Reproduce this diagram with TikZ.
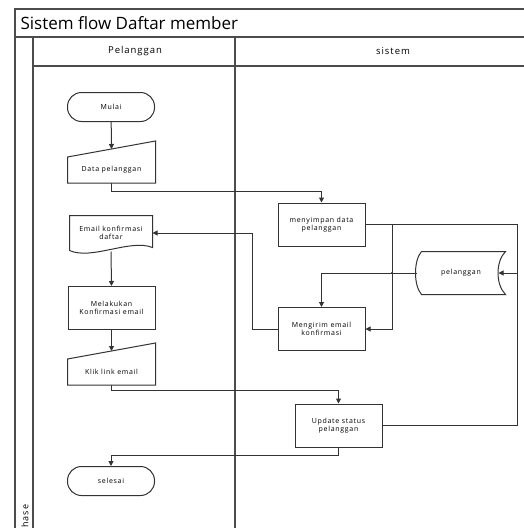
\documentclass[tikz,border=0pt]{standalone}
\usepackage{fontspec}
\setmainfont{Open Sans}
\newfontfamily\kecil[LetterSpace=10]{Open Sans}
\usetikzlibrary{positioning, arrows.meta}

\begin{document}
\begin{tikzpicture}[x=1pt, y=-1pt,
    frame/.style={draw=black!70, line width=1.2pt},
    proses/.style={rectangle, draw=black!80, line width=1pt,
      minimum width=87pt, minimum height=43pt, align=center,
      font=\kecil\fontsize{7}{8.5}\selectfont},
    terminal/.style={proses, rounded corners=14pt, minimum height=29pt},
    masukan/.style={proses, draw=none, minimum height=25pt,
      append after command={\pgfextra{\draw[draw=black!80, line width=1pt]
        (\tikzlastnode.south west) -- (\tikzlastnode.south east)
        -- ([yshift=16pt]\tikzlastnode.north east)
        -- (\tikzlastnode.north west) -- cycle;}}},
    dokumen/.style={proses, draw=none, minimum width=82pt, minimum height=34pt,
      append after command={\pgfextra{\draw[draw=black!80, line width=1pt]
        (\tikzlastnode.south west) -- (\tikzlastnode.north west)
        -- (\tikzlastnode.north east) -- ([yshift=3pt]\tikzlastnode.south east)
        .. controls ([xshift=-22pt,yshift=12pt]\tikzlastnode.south east)
        and ([xshift=22pt,yshift=-10pt]\tikzlastnode.south west)
        .. (\tikzlastnode.south west);}}},
    arsip/.style={proses, draw=none, minimum width=88pt, minimum height=42pt,
      append after command={\pgfextra{\draw[draw=black!80, line width=1pt]
        ([xshift=5pt]\tikzlastnode.north west) -- (\tikzlastnode.north east)
        .. controls ([xshift=-10pt,yshift=-10pt]\tikzlastnode.north east)
        and ([xshift=-10pt,yshift=10pt]\tikzlastnode.south east)
        .. (\tikzlastnode.south east) -- ([xshift=5pt]\tikzlastnode.south west)
        .. controls ([xshift=-3pt,yshift=9pt]\tikzlastnode.south west)
        and ([xshift=-3pt,yshift=-9pt]\tikzlastnode.north west)
        .. ([xshift=5pt]\tikzlastnode.north west);}}},
    garis/.style={draw=black!80, line width=1pt},
    arrow/.style={garis, -{Triangle[length=5pt, width=5pt]}}]

    \useasboundingbox (0,0) rectangle (524,528);
    \clip (0,0) rectangle (524,528);

    % Kolam dan lajur
    \draw[frame] (15,9) rectangle (600,600);
    \draw[frame] (15,37) -- (600,37);
    \draw[frame] (33,37) -- (33,600);
    \draw[frame] (33,66) -- (600,66);
    \draw[frame] (235,37) -- (235,600);
    \node[anchor=west, font=\fontsize{17}{19}\selectfont] (judul) at (17,23) {Sistem flow Daftar member};
    \node[font=\kecil\fontsize{9.5}{11}\selectfont] (lajurA) at (135,51) {Pelanggan};
    \node[font=\kecil\fontsize{9.5}{11}\selectfont] (lajurB) at (393,51) {sistem};
    \node[rotate=90, anchor=west, inner sep=0pt, font=\kecil\fontsize{9}{10}\selectfont] (fase) at (25,534) {Phase};

    % Pelanggan
    \node[terminal] (mulai) at (111,107) {Mulai};
    \node[masukan] (data) at (111.5,170) {Data pelanggan};
    \node[dokumen] (email) at (111,233) {Email konfirmasi\\daftar};
    \node[proses] (konfirm) at (111.5,308) {Melakukan\\Konfirmasi email};
    \node[masukan] (klik) at (111.5,372) {Klik link email};
    \node[terminal] (selesai) at (111,481) {selesai};

    % Sistem
    \node[proses] (simpan) at (321.5,224.5) {menyimpan data\\pelanggan};
    \node[proses] (kirim) at (321.5,329) {Mengirim email\\konfirmasi};
    \node[proses] (update) at (338.5,425.5) {Update status\\pelanggan};
    \node[arsip] (plg) at (461,273) {pelanggan};

    \coordinate (cabang) at (392,224.5);
    \coordinate (bus) at (517,273);

    % Flechas
    \draw[arrow] (mulai) -- ([yshift=8pt]data.north);
    \draw[arrow] (data.south) -- ++(0,8) -| (simpan.north);
    \draw[arrow] (simpan.east) -| (bus) -- ([xshift=-7pt]plg.east);
    \draw[garis] (update.east) -| (bus);
    \draw[arrow] (cabang) |- (kirim.east);
    \draw[arrow] (plg.west) -| (kirim.north);
    \fill[black!80] (cabang |- plg.west) circle (1.2pt);
    \draw[arrow] (kirim.west) -- ++(-25,0) |- (email.east);
    \draw[arrow] ([yshift=-1pt]email.south) -- (konfirm.north);
    \draw[arrow] (konfirm) -- ([yshift=8pt]klik.north);
    \draw[arrow] (klik.south) -- ++(0,5) -| (update.north);
    \draw[arrow] (update.south) -- ++(0,8) -| (selesai.north);
\end{tikzpicture}
\end{document}
